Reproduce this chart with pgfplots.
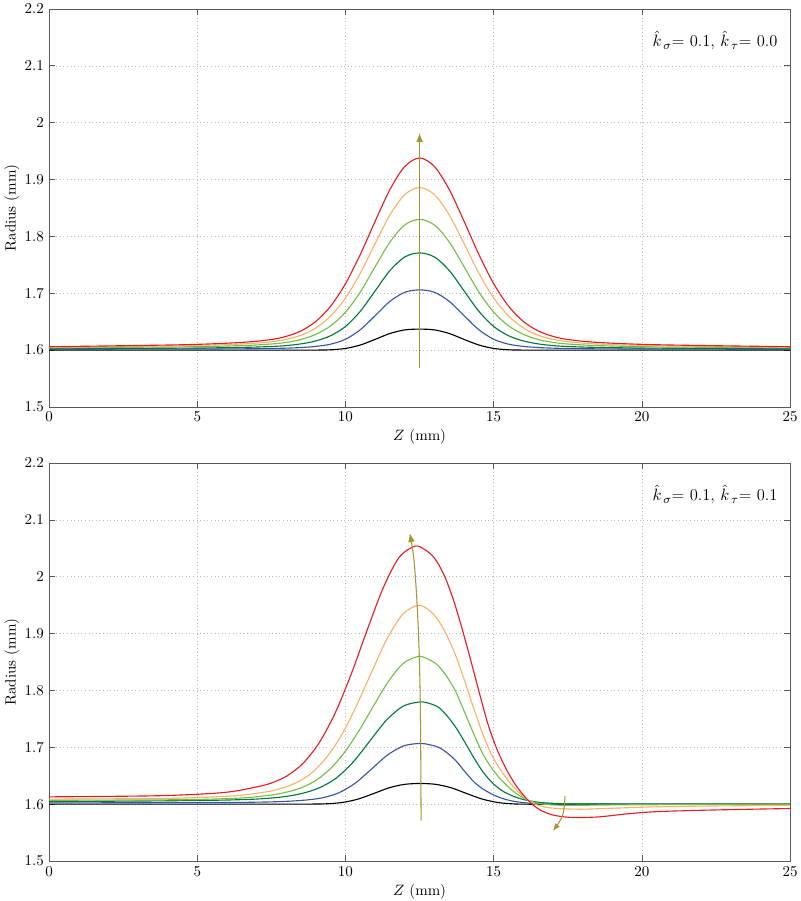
\documentclass[border=0pt]{standalone}
\usepackage{pgfplots}
\pgfplotsset{compat=1.18}
\usetikzlibrary{arrows.meta}
\definecolor{cred}{RGB}{228,30,38}
\definecolor{corange}{RGB}{250,178,102}
\definecolor{cltgreen}{RGB}{116,190,72}
\definecolor{cdkgreen}{RGB}{0,122,58}
\definecolor{cblue}{RGB}{56,84,166}
\definecolor{carrow}{RGB}{168,148,48}
\pgfplotsset{
  cur/.style={line width=0.75pt, smooth, tension=0.5},
  myax/.style={
    width=494pt, height=265.3pt, scale only axis,
    xmin=0, xmax=25, ymin=1.5, ymax=2.2,
    xtick={0,5,10,15,20,25},
    ytick={1.5,1.6,1.7,1.8,1.9,2,2.1,2.2},
    grid=major, grid style={dotted, gray!55, line width=0.45pt},
    tick align=inside, tick pos=both,
    major tick length=4pt,
    axis line style={black!65}, tick style={black!65, line width=0.5pt},
    xlabel={$Z$ (mm)}, ylabel={Radius (mm)},
    xlabel style={at={(axis description cs:0.5,-0.076)}, anchor=center},
    ylabel style={at={(axis description cs:-0.05,0.5)}, anchor=center},
  }
}
\begin{document}
\begin{tikzpicture}
\begin{axis}[myax, name=top, at={(0pt,0pt)}, anchor=south west]
% black
\addplot[cur, black] coordinates {(0,1.6000) (8.5,1.6000) (9,1.6001) (9.5,1.6006) (10,1.6030) (10.5,1.6090) (11,1.6189) (11.5,1.6293) (12,1.6356) (12.5,1.6370) (13,1.6356) (13.5,1.6293) (14,1.6189) (14.5,1.6090) (15,1.6030) (15.5,1.6006) (16,1.6001) (16.5,1.6000) (25,1.6000)};
% blue
\addplot[cur, cblue] coordinates {(0,1.6015) (4.5,1.6019) (6.5,1.6023) (7.5,1.6029) (8,1.6035) (8.5,1.6046) (9,1.6066) (9.5,1.6105) (10,1.6191) (10.5,1.6359) (11,1.6606) (11.5,1.6858) (12,1.7018) (12.5,1.7060) (13,1.7018) (13.5,1.6858) (14,1.6606) (14.5,1.6359) (15,1.6191) (15.5,1.6105) (16,1.6066) (16.5,1.6046) (17,1.6035) (17.5,1.6029) (18.5,1.6023) (20.5,1.6019) (25,1.6015)};
% dark green
\addplot[cur, cdkgreen] coordinates {(0,1.6025) (4.5,1.6035) (6.5,1.6048) (7.5,1.6064) (8,1.6080) (8.5,1.6110) (9,1.6162) (9.5,1.6254) (10,1.6416) (10.5,1.6683) (11,1.7042) (11.5,1.7401) (12,1.7639) (12.5,1.7710) (13,1.7639) (13.5,1.7401) (14,1.7042) (14.5,1.6683) (15,1.6416) (15.5,1.6254) (16,1.6162) (16.5,1.6110) (17,1.6080) (17.5,1.6064) (18.5,1.6048) (20.5,1.6035) (25,1.6025)};
% light green
\addplot[cur, cltgreen] coordinates {(0,1.6040) (4.5,1.6058) (6.5,1.6080) (7.5,1.6108) (8,1.6136) (8.5,1.6188) (9,1.6278) (9.5,1.6428) (10,1.6668) (10.5,1.7022) (11,1.7467) (11.5,1.7902) (12,1.8202) (12.5,1.8300) (13,1.8202) (13.5,1.7902) (14,1.7467) (14.5,1.7022) (15,1.6668) (15.5,1.6428) (16,1.6278) (16.5,1.6188) (17,1.6136) (17.5,1.6108) (18.5,1.6080) (20.5,1.6058) (25,1.6040)};
% orange
\addplot[cur, corange] coordinates {(0,1.6050) (4.5,1.6076) (6.5,1.6108) (7.5,1.6147) (8,1.6188) (8.5,1.6262) (9,1.6390) (9.5,1.6599) (10,1.6917) (10.5,1.7354) (11,1.7875) (11.5,1.8379) (12,1.8736) (12.5,1.8860) (13,1.8736) (13.5,1.8379) (14,1.7875) (14.5,1.7354) (15,1.6917) (15.5,1.6599) (16,1.6390) (16.5,1.6262) (17,1.6188) (17.5,1.6147) (18.5,1.6108) (20.5,1.6076) (25,1.6050)};
% red
\addplot[cur, cred] coordinates {(0,1.6060) (4.5,1.6095) (6.5,1.6136) (7.5,1.6187) (8,1.6242) (8.5,1.6338) (9,1.6505) (9.5,1.6774) (10,1.7168) (10.5,1.7682) (11,1.8267) (11.5,1.8825) (12,1.9231) (12.5,1.9380) (13,1.9231) (13.5,1.8825) (14,1.8267) (14.5,1.7682) (15,1.7168) (15.5,1.6774) (16,1.6505) (16.5,1.6338) (17,1.6242) (17.5,1.6187) (18.5,1.6136) (20.5,1.6095) (25,1.6060)};
% arrow
\addplot[carrow, line width=0.7pt, -{Latex[length=6pt,width=4.5pt]}] coordinates {(12.5,1.568) (12.5,1.982)};
\node[anchor=east, font=\fontsize{11}{13}\selectfont] at (axis cs:24.75,2.145) {$\hat{k}_{\,\sigma}$= 0.1, $\hat{k}_{\,\tau}$= 0.0};
\end{axis}
\begin{axis}[myax, name=bot, at={(0pt,-302.7pt)}, anchor=south west]
% black
\addplot[cur, black] coordinates {(0,1.6003) (8.3,1.6003) (8.845,1.6003) (9.37,1.6008) (9.895,1.6031) (10.42,1.6090) (10.945,1.6187) (11.47,1.6289) (11.995,1.6350) (12.52,1.6365) (13.045,1.6350) (13.57,1.6289) (14.095,1.6187) (14.62,1.6090) (15.145,1.6030) (15.67,1.6006) (16.195,1.6001) (17,1.6000) (25,1.6000)};
% blue
\addplot[cur, cblue] coordinates {(0,1.6023) (5.92,1.6031) (7.02,1.6037) (7.57,1.6043) (8.12,1.6054) (8.67,1.6074) (9.22,1.6113) (9.77,1.6200) (10.32,1.6367) (10.87,1.6615) (11.42,1.6867) (11.97,1.7028) (12.52,1.7070) (12.85,1.7045) (13.15,1.7000) (13.45,1.6895) (13.75,1.6750) (14.05,1.6560) (14.35,1.6385) (14.65,1.6265) (14.95,1.6175) (15.25,1.6110) (15.55,1.6065) (15.9,1.6035) (16.4,1.6012) (17.2,1.6002) (25,1.6000)};
% dark green
\addplot[cur, cdkgreen] coordinates {(0,1.6047) (3.4,1.6058) (5.68,1.6071) (6.82,1.6087) (7.39,1.6105) (7.96,1.6135) (8.53,1.6190) (9.10,1.6285) (9.67,1.6454) (10.24,1.6731) (10.81,1.7105) (11.38,1.7478) (11.95,1.7726) (12.52,1.7800) (12.85,1.7770) (13.15,1.7700) (13.45,1.7540) (13.75,1.7330) (14.05,1.7070) (14.35,1.6800) (14.65,1.6560) (14.95,1.6380) (15.25,1.6250) (15.55,1.6165) (15.85,1.6105) (16.2,1.6060) (16.6,1.6030) (17.2,1.6012) (18.2,1.6004) (25,1.6000)};
% light green
\addplot[cur, cltgreen] coordinates {(0,1.6070) (4.47,1.6080) (6.47,1.6110) (7.47,1.6160) (7.97,1.6208) (8.47,1.6282) (8.97,1.6409) (9.47,1.6614) (9.97,1.6915) (10.47,1.7306) (10.97,1.7752) (11.47,1.8177) (11.97,1.8486) (12.47,1.8600) (12.8,1.8550) (13.1,1.8450) (13.4,1.8260) (13.7,1.8000) (14.0,1.7640) (14.3,1.7270) (14.6,1.6920) (14.9,1.6660) (15.2,1.6460) (15.5,1.6300) (15.8,1.6175) (16.1,1.6085) (16.4,1.6030) (16.8,1.5995) (17.3,1.5982) (18.0,1.5982) (19.5,1.5990) (25,1.6000)};
% orange
\addplot[cur, corange] coordinates {(0,1.6090) (4.21,1.6105) (6.27,1.6150) (7.30,1.6215) (7.815,1.6277) (8.33,1.6376) (8.85,1.6547) (9.36,1.6824) (9.88,1.7228) (10.39,1.7756) (10.91,1.8357) (11.42,1.8930) (11.94,1.9347) (12.45,1.9500) (12.8,1.9420) (13.1,1.9260) (13.4,1.8990) (13.7,1.8640) (14.0,1.8200) (14.3,1.7730) (14.6,1.7280) (14.9,1.6900) (15.2,1.6630) (15.5,1.6410) (15.8,1.6230) (16.1,1.6090) (16.4,1.6000) (16.8,1.5945) (17.3,1.5920) (18.0,1.5913) (19.0,1.5930) (20.5,1.5955) (22.5,1.5970) (25,1.5980)};
% red
\addplot[cur, cred] coordinates {(0,1.6130) (3.71,1.6150) (5.87,1.6205) (6.95,1.6299) (7.49,1.6371) (8.03,1.6500) (8.57,1.6721) (9.11,1.7079) (9.65,1.7602) (10.19,1.8285) (10.73,1.9062) (11.27,1.9803) (11.81,2.0342) (12.35,2.0540) (12.7,2.0470) (13.0,2.0330) (13.3,2.0060) (13.6,1.9660) (13.9,1.9150) (14.2,1.8580) (14.5,1.7990) (14.8,1.7420) (15.1,1.6980) (15.4,1.6640) (15.7,1.6370) (16.0,1.6160) (16.3,1.6000) (16.6,1.5890) (17.0,1.5810) (17.5,1.5772) (18.0,1.5767) (18.6,1.5780) (19.5,1.5830) (20.5,1.5870) (22.5,1.5900) (25,1.5925)};
% arrows
\addplot[carrow, line width=0.7pt, smooth, -{Latex[length=6pt,width=4.5pt]}] coordinates {(12.55,1.571) (12.53,1.75) (12.49,1.86) (12.42,1.948) (12.31,2.03) (12.17,2.077)};
\addplot[carrow, line width=0.7pt, smooth, -{Latex[length=5pt,width=4pt]}] coordinates {(17.4,1.6146) (17.38,1.595) (17.28,1.575) (17.0,1.553)};
\node[anchor=east, font=\fontsize{11}{13}\selectfont] at (axis cs:24.75,2.145) {$\hat{k}_{\,\sigma}$= 0.1, $\hat{k}_{\,\tau}$= 0.1};
\end{axis}
\pgfresetboundingbox
\path[use as bounding box] (-32.7pt,-329.3pt) rectangle (500.7pt,271.3pt);
\end{tikzpicture}
\end{document}
